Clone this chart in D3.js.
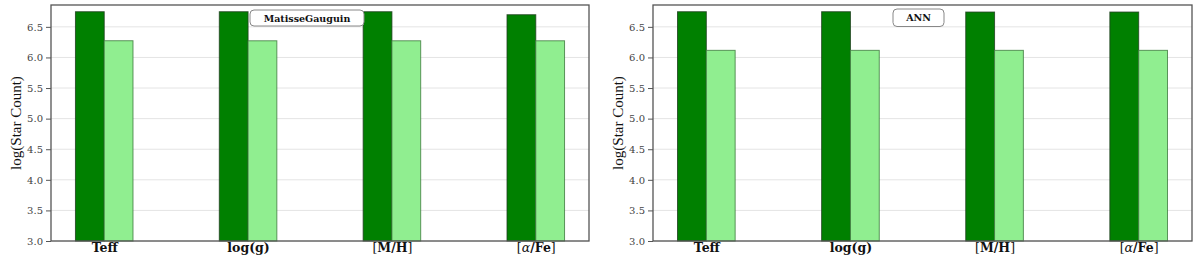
<!DOCTYPE html>
<html>
<head>
<meta charset="utf-8">
<script src="https://cdn.jsdelivr.net/npm/d3@7"></script>
<style>
  html, body { margin: 0; padding: 0; background: #fff; }
  svg { display: block; }
</style>
</head>
<body>
<svg id="chart" width="1200" height="260"></svg>
<script>
// ---- data ----
const categories = ["Teff", "log(g)", "[M/H]", "[α/Fe]"];
const matisseDark  = [6.747, 6.747, 6.747, 6.698];
const matisseLight = [6.273, 6.272, 6.272, 6.272];
const annDark      = [6.747, 6.747, 6.742, 6.742];
const annLight     = [6.116, 6.116, 6.116, 6.116];
const yTicks = [3.0, 3.5, 4.0, 4.5, 5.0, 5.5, 6.0, 6.5];
const panelNames = ["MatisseGauguin", "ANN"];
const yLabel = "log(Star Count)";

(function () {
const panels = [
  { name: panelNames[0], dark: matisseDark, light: matisseLight, x0: 51, x1: 589, box: [250, 10, 114, 16] },
  { name: panelNames[1], dark: annDark, light: annLight, x0: 653, x1: 1192, box: [893, 9, 51, 17.5] }
];

const svg = d3.select("#chart");
const plotTop = 5, plotBottom = 241;
const barW = 0.2;

panels.forEach(p => {
  const g = svg.append("g");
  const x = d3.scaleLinear().domain([-0.37, 3.37]).range([p.x0, p.x1]);
  const y = d3.scaleLinear().domain([3.0, 6.857]).range([plotBottom, plotTop]);

  // grid
  g.selectAll("line.grid").data(yTicks).enter().append("line")
    .attr("x1", p.x0).attr("x2", p.x1)
    .attr("y1", d => y(d)).attr("y2", d => y(d))
    .attr("stroke", "#e4e4e4").attr("stroke-width", 1);

  // bars
  const idx = d3.range(categories.length);
  g.selectAll("rect.dark").data(idx).enter().append("rect")
    .attr("x", i => x(i - barW))
    .attr("width", i => x(i) - x(i - barW))
    .attr("y", i => y(p.dark[i]))
    .attr("height", i => y(3.0) - y(p.dark[i]))
    .attr("fill", "#008000")
    .attr("stroke", "#1e3f1e").attr("stroke-opacity", 0.8).attr("stroke-width", 1);
  g.selectAll("rect.light").data(idx).enter().append("rect")
    .attr("x", i => x(i))
    .attr("width", i => x(i + barW) - x(i))
    .attr("y", i => y(p.light[i]))
    .attr("height", i => y(3.0) - y(p.light[i]))
    .attr("fill", "#90ee90")
    .attr("stroke", "#3d7a3d").attr("stroke-opacity", 0.8).attr("stroke-width", 1);

  // y axis
  const yAxis = d3.axisLeft(y).tickValues(yTicks).tickFormat(d3.format(".1f")).tickSize(5).tickPadding(3);
  const ya = g.append("g").attr("transform", `translate(${p.x0},0)`).call(yAxis);
  ya.select(".domain").remove();
  ya.selectAll(".tick line").attr("stroke", "#555");
  ya.selectAll(".tick text")
    .attr("fill", "#444")
    .style("font-family", "'DejaVu Serif', serif")
    .style("font-size", "10px");

  // x axis labels
  const xa = d3.axisBottom(x).tickValues(idx).tickSize(0).tickFormat(() => "");
  const xg = g.append("g").attr("transform", `translate(0,${plotBottom})`).call(xa);
  xg.select(".domain").remove();
  xg.selectAll(".tick").each(function(i) {
    const t = d3.select(this).append("text")
      .attr("y", 11)
      .attr("text-anchor", "middle")
      .attr("fill", "#111")
      .style("font-family", "'DejaVu Serif', serif")
      .style("font-size", "12.5px");
    const label = categories[i];
    if (label.includes("α")) {
      t.append("tspan").attr("fill", "#111").text("[");
      t.append("tspan").attr("fill", "#111").text("α").style("font-style", "italic");
      t.append("tspan").attr("fill", "#111").text("/Fe").style("font-weight", "bold");
      t.append("tspan").attr("fill", "#111").text("]");
    } else if (label.startsWith("[")) {
      t.append("tspan").attr("fill", "#111").text("[");
      t.append("tspan").attr("fill", "#111").text(label.slice(1, -1)).style("font-weight", "bold");
      t.append("tspan").attr("fill", "#111").text("]");
    } else {
      t.text(label).style("font-weight", "bold");
    }
  });

  // spines
  g.append("rect")
    .attr("x", p.x0).attr("y", plotTop)
    .attr("width", p.x1 - p.x0).attr("height", plotBottom - plotTop)
    .attr("fill", "none").attr("stroke", "#555").attr("stroke-width", 1.3);

  // y label
  g.append("text")
    .attr("transform", `translate(${p.x0 - 30},${(plotTop + plotBottom) / 2}) rotate(-90)`)
    .attr("text-anchor", "middle")
    .attr("fill", "#111")
    .style("font-family", "'Liberation Serif', serif")
    .style("font-size", "15px")
    .text(yLabel);

  // legend-like title box
  const [bx, by, bw, bh] = p.box;
  g.append("rect")
    .attr("x", bx).attr("y", by).attr("width", bw).attr("height", bh)
    .attr("rx", 4).attr("ry", 4)
    .attr("fill", "#fff").attr("stroke", "#888").attr("stroke-width", 1);
  g.append("text")
    .attr("x", bx + bw / 2).attr("y", by + bh / 2 + 3.5)
    .attr("text-anchor", "middle")
    .attr("fill", "#111")
    .style("font-family", "'DejaVu Serif', serif")
    .style("font-weight", "bold")
    .style("font-size", "9.5px")
    .text(p.name);
});
})();
</script>
</body>
</html>
